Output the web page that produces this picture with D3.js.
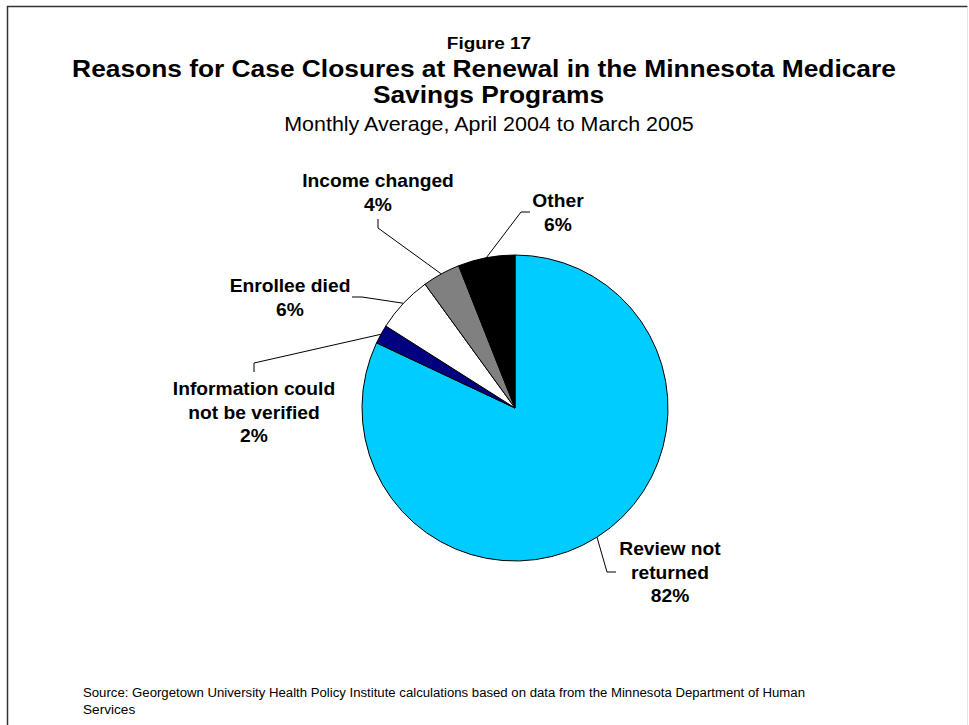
<!DOCTYPE html>
<html>
<head>
<meta charset="utf-8">
<script src="https://cdn.jsdelivr.net/npm/d3@7"></script>
<style>
  html, body { margin: 0; padding: 0; background: #fff; }
  svg { display: block; font-family: "Liberation Sans", Arial, sans-serif; }
</style>
</head>
<body>
<svg id="chart" width="969" height="725"></svg>
<script>
// Reasons for case closures, monthly average share (%)
const categories = [
  "Review not returned",
  "Information could not be verified",
  "Enrollee died",
  "Income changed",
  "Other"
];
const values = [82, 2, 6, 4, 6];
const colors = ["#00CCFF", "#000080", "#FFFFFF", "#808080", "#000000"];

// Label text lines for each slice (the last line carries the value)
const labelLines = [
  ["Review not", "returned"],
  ["Information could", "not be verified"],
  ["Enrollee died"],
  ["Income changed"],
  ["Other"]
];

const svg = d3.select("#chart");

// Slightly wide lettering: text is drawn at the origin of a group that is
// translated and stretched horizontally.
function wideText(parent, x, y, sx, str) {
  const gg = parent.append("g").attr("transform", `translate(${x},${y}) scale(${sx},1)`);
  return gg.append("text").attr("x", 0).attr("y", 0).text(str);
}

// Frame
svg.append("path")
  .attr("d", "M7.5,725 L7.5,6.5 L967.5,6.5")
  .attr("fill", "none").attr("stroke", "#333").attr("stroke-width", 1.5);
svg.append("line")
  .attr("x1", 967.5).attr("y1", 7).attr("x2", 967.5).attr("y2", 725)
  .attr("stroke", "#e4e4e4").attr("stroke-width", 1);

// Titles
wideText(svg, 489, 49, 1.15, "Figure 17")
  .attr("text-anchor", "middle").attr("font-weight", "bold").attr("font-size", 16.5);
wideText(svg, 484, 77, 1.145, "Reasons for Case Closures at Renewal in the Minnesota Medicare")
  .attr("text-anchor", "middle").attr("font-weight", "bold").attr("font-size", 23);
wideText(svg, 488.5, 103, 1.145, "Savings Programs")
  .attr("text-anchor", "middle").attr("font-weight", "bold").attr("font-size", 23);
wideText(svg, 489, 131, 1.10, "Monthly Average, April 2004 to March 2005")
  .attr("text-anchor", "middle").attr("font-size", 19.5);

// Pie
const cx = 515, cy = 408, r = 153;
const pie = d3.pie().sort(null).value(d => d.value);
const data = categories.map((c, i) => ({ name: c, value: values[i], color: colors[i], lines: labelLines[i] }));
const arcs = pie(data);
const arc = d3.arc().innerRadius(0).outerRadius(r);
const edge = d3.arc().innerRadius(r).outerRadius(r);

const g = svg.append("g").attr("transform", `translate(${cx},${cy})`);
g.selectAll("path.slice").data(arcs).enter().append("path")
  .attr("class", "slice")
  .attr("d", arc)
  .attr("fill", d => d.data.color)
  .attr("stroke", "#000").attr("stroke-width", 1).attr("stroke-linejoin", "round");

// Label placement (relative to pie centre): centre of the first text line,
// and the leader elbow points.
const layout = {
  "Review not returned":               { tx: 155, ty: 147, elbow: [[92, 164], [101, 164]] },
  "Information could not be verified": { tx: -261, ty: -13, elbow: [[-261, -45], [-261, -36]] },
  "Enrollee died":                     { tx: -225, ty: -116, elbow: [[-153, -111], [-163, -111]] },
  "Income changed":                    { tx: -137, ty: -221, elbow: [[-137, -180], [-137, -189]] },
  "Other":                             { tx: 43, ty: -201, elbow: [[6, -196], [15, -196]] }
};

const lineH = 23.5;
const labelSx = 1.10;
const labels = g.selectAll("g.label").data(arcs).enter().append("g").attr("class", "label");

labels.append("polyline")
  .attr("points", d => {
    const L = layout[d.data.name];
    const p = edge.centroid(d);
    return [p, ...L.elbow].map(q => q.join(",")).join(" ");
  })
  .attr("fill", "none").attr("stroke", "#000").attr("stroke-width", 1);

labels.each(function(d) {
  const L = layout[d.data.name];
  const sel = d3.select(this);
  const lines = d.data.lines.concat([d.data.value + "%"]);
  lines.forEach((s, i) => {
    wideText(sel, L.tx, L.ty + i * lineH, labelSx, s)
      .attr("text-anchor", "middle")
      .attr("font-weight", "bold").attr("font-size", 17.5)
      .attr("fill", "#000");
  });
});

// Source note
const src = svg.append("g").attr("font-size", 12.5).attr("fill", "#000");
src.append("text").attr("x", 83).attr("y", 697)
  .attr("textLength", 722).attr("lengthAdjust", "spacingAndGlyphs")
  .text("Source: Georgetown University Health Policy Institute calculations based on data from the Minnesota Department of Human");
wideText(src, 83, 714, 1.09, "Services");
</script>
</body>
</html>
